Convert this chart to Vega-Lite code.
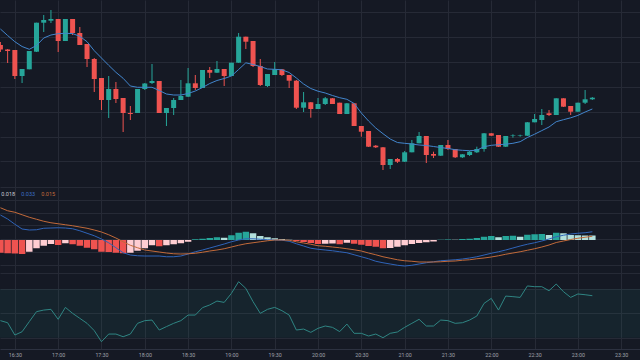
{
  "$schema": "https://vega.github.io/schema/vega-lite/v6.json",
  "width": 640,
  "height": 360,
  "autosize": {"type": "fit", "contains": "padding"},
  "padding": 0,
  "background": "#151924",
  "data": {
    "values": [
      {"t":"16:20","min":980,"o":155,"h":158,"l":148,"c":150.5,"ma":171,"hist":-0.051,"macd":0.100,"signal":0.129,"rsi":44.0},
      {"t":"16:25","min":985,"o":150.5,"h":151,"l":137,"c":149,"ma":164.5,"hist":-0.053,"macd":0.084,"signal":0.117,"rsi":42.3},
      {"t":"16:30","min":990,"o":150,"h":150,"l":121,"c":124,"ma":158.3,"hist":-0.054,"macd":0.063,"signal":0.111,"rsi":32.2},
      {"t":"16:35","min":995,"o":124,"h":131,"l":117,"c":131,"ma":153.5,"hist":-0.056,"macd":0.044,"signal":0.101,"rsi":34.9},
      {"t":"16:40","min":1000,"o":130.7,"h":149,"l":130.7,"c":149,"ma":150.7,"hist":-0.047,"macd":0.040,"signal":0.091,"rsi":43.2},
      {"t":"16:45","min":1005,"o":148.3,"h":177.3,"l":148,"c":177.3,"ma":154.5,"hist":-0.033,"macd":0.041,"signal":0.083,"rsi":51.4},
      {"t":"16:50","min":1010,"o":177.3,"h":185,"l":168,"c":180,"ma":162,"hist":-0.023,"macd":0.047,"signal":0.075,"rsi":52.7},
      {"t":"16:55","min":1015,"o":179.3,"h":190,"l":177,"c":181,"ma":165,"hist":-0.016,"macd":0.048,"signal":0.069,"rsi":53.3},
      {"t":"17:00","min":1020,"o":181,"h":181,"l":148,"c":159,"ma":166.3,"hist":-0.020,"macd":0.049,"signal":0.065,"rsi":45.1},
      {"t":"17:05","min":1025,"o":159,"h":181,"l":159,"c":181,"ma":166.7,"hist":-0.013,"macd":0.048,"signal":0.061,"rsi":54.9},
      {"t":"17:10","min":1030,"o":181,"h":181,"l":165,"c":167,"ma":166.4,"hist":-0.017,"macd":0.045,"signal":0.057,"rsi":50.0},
      {"t":"17:15","min":1035,"o":167,"h":173,"l":155,"c":155,"ma":163.7,"hist":-0.023,"macd":0.037,"signal":0.052,"rsi":45.9},
      {"t":"17:20","min":1040,"o":156,"h":156,"l":133,"c":141,"ma":158.3,"hist":-0.031,"macd":0.027,"signal":0.047,"rsi":41.8},
      {"t":"17:25","min":1045,"o":141,"h":142,"l":108,"c":121,"ma":149.3,"hist":-0.037,"macd":0.017,"signal":0.040,"rsi":35.8},
      {"t":"17:30","min":1050,"o":122,"h":122,"l":90,"c":100,"ma":142,"hist":-0.047,"macd":0.004,"signal":0.032,"rsi":26.7},
      {"t":"17:35","min":1055,"o":100,"h":124,"l":82,"c":111,"ma":134.7,"hist":-0.048,"macd":-0.011,"signal":0.021,"rsi":33.0},
      {"t":"17:40","min":1060,"o":111,"h":118,"l":97,"c":101,"ma":127.7,"hist":-0.051,"macd":-0.031,"signal":0.008,"rsi":33.0},
      {"t":"17:45","min":1065,"o":102,"h":102,"l":68,"c":87,"ma":121.7,"hist":-0.053,"macd":-0.051,"signal":-0.007,"rsi":30.8},
      {"t":"17:50","min":1070,"o":87,"h":94,"l":80,"c":86,"ma":114,"hist":-0.051,"macd":-0.060,"signal":-0.021,"rsi":33.0},
      {"t":"17:55","min":1075,"o":87,"h":111,"l":87,"c":111,"ma":112.7,"hist":-0.043,"macd":-0.063,"signal":-0.031,"rsi":41.8},
      {"t":"18:00","min":1080,"o":111,"h":117,"l":110,"c":116.5,"ma":112.7,"hist":-0.033,"macd":-0.064,"signal":-0.040,"rsi":44.0},
      {"t":"18:05","min":1085,"o":117,"h":136,"l":116,"c":119,"ma":112.7,"hist":-0.021,"macd":-0.064,"signal":-0.044,"rsi":44.5},
      {"t":"18:10","min":1090,"o":119,"h":119,"l":87,"c":87,"ma":109.5,"hist":-0.025,"macd":-0.064,"signal":-0.048,"rsi":36.3},
      {"t":"18:15","min":1095,"o":87,"h":92,"l":74,"c":92,"ma":106,"hist":-0.021,"macd":-0.067,"signal":-0.052,"rsi":39.1},
      {"t":"18:20","min":1100,"o":92,"h":102,"l":85,"c":100,"ma":105,"hist":-0.017,"macd":-0.067,"signal":-0.055,"rsi":41.8},
      {"t":"18:25","min":1105,"o":100,"h":120,"l":100,"c":104,"ma":105,"hist":-0.013,"macd":-0.064,"signal":-0.056,"rsi":44.0},
      {"t":"18:30","min":1110,"o":103.3,"h":132,"l":103,"c":116.7,"ma":106.5,"hist":-0.007,"macd":-0.056,"signal":-0.055,"rsi":48.6},
      {"t":"18:35","min":1115,"o":116.7,"h":125,"l":110,"c":112,"ma":109,"hist":0.003,"macd":-0.047,"signal":-0.053,"rsi":48.6},
      {"t":"18:40","min":1120,"o":112,"h":130,"l":112,"c":130,"ma":112.5,"hist":0.005,"macd":-0.040,"signal":-0.049,"rsi":54.7},
      {"t":"18:45","min":1125,"o":130,"h":133,"l":122,"c":127.3,"ma":116.5,"hist":0.008,"macd":-0.032,"signal":-0.044,"rsi":56.9},
      {"t":"18:50","min":1130,"o":127.3,"h":139,"l":127,"c":131,"ma":119.5,"hist":0.011,"macd":-0.024,"signal":-0.040,"rsi":60.1},
      {"t":"18:55","min":1135,"o":131,"h":131,"l":114,"c":124,"ma":121.5,"hist":0.009,"macd":-0.016,"signal":-0.035,"rsi":59.0},
      {"t":"19:00","min":1140,"o":124,"h":137.3,"l":124,"c":137.3,"ma":124,"hist":0.019,"macd":-0.007,"signal":-0.028,"rsi":66.4},
      {"t":"19:05","min":1145,"o":137.3,"h":167,"l":137,"c":163.3,"ma":130.5,"hist":0.029,"macd":0.000,"signal":-0.021,"rsi":76.0},
      {"t":"19:10","min":1150,"o":163.3,"h":163.3,"l":151,"c":158.3,"ma":137.2,"hist":0.033,"macd":0.005,"signal":-0.015,"rsi":70.5},
      {"t":"19:15","min":1155,"o":159,"h":159,"l":133,"c":134,"ma":135.5,"hist":0.027,"macd":0.005,"signal":-0.011,"rsi":59.6},
      {"t":"19:20","min":1160,"o":134,"h":141,"l":114,"c":115,"ma":133.5,"hist":0.016,"macd":0.003,"signal":-0.007,"rsi":50.0},
      {"t":"19:25","min":1165,"o":114,"h":126,"l":113,"c":126,"ma":131,"hist":0.011,"macd":0.001,"signal":-0.003,"rsi":53.3},
      {"t":"19:30","min":1170,"o":125,"h":138,"l":125,"c":130.7,"ma":130.7,"hist":0.007,"macd":0.000,"signal":0.000,"rsi":54.9},
      {"t":"19:35","min":1175,"o":130.7,"h":131,"l":124,"c":125,"ma":130.2,"hist":0.004,"macd":-0.001,"signal":0.000,"rsi":52.2},
      {"t":"19:40","min":1180,"o":125,"h":125,"l":112,"c":119.3,"ma":127.5,"hist":0.001,"macd":-0.005,"signal":-0.001,"rsi":48.6},
      {"t":"19:45","min":1185,"o":119.3,"h":120,"l":91,"c":92.3,"ma":122,"hist":-0.004,"macd":-0.015,"signal":-0.007,"rsi":36.3},
      {"t":"19:50","min":1190,"o":92.3,"h":108,"l":88,"c":97.7,"ma":116,"hist":-0.008,"macd":-0.024,"signal":-0.012,"rsi":37.1},
      {"t":"19:55","min":1195,"o":97.7,"h":98,"l":82.3,"c":91,"ma":111.5,"hist":-0.012,"macd":-0.033,"signal":-0.017,"rsi":34.4},
      {"t":"20:00","min":1200,"o":91,"h":102,"l":91,"c":96,"ma":108.8,"hist":-0.016,"macd":-0.037,"signal":-0.023,"rsi":37.7},
      {"t":"20:05","min":1205,"o":96,"h":103,"l":95,"c":101.7,"ma":107,"hist":-0.015,"macd":-0.040,"signal":-0.025,"rsi":39.6},
      {"t":"20:10","min":1210,"o":101.7,"h":102,"l":96,"c":96,"ma":104.5,"hist":-0.014,"macd":-0.043,"signal":-0.028,"rsi":38.5},
      {"t":"20:15","min":1215,"o":97.3,"h":97.3,"l":86,"c":86,"ma":102.3,"hist":-0.017,"macd":-0.047,"signal":-0.031,"rsi":35.0},
      {"t":"20:20","min":1220,"o":86,"h":97,"l":86,"c":96.7,"ma":100.7,"hist":-0.011,"macd":-0.051,"signal":-0.035,"rsi":41.2},
      {"t":"20:25","min":1225,"o":96.7,"h":97,"l":74,"c":74,"ma":96.5,"hist":-0.015,"macd":-0.059,"signal":-0.039,"rsi":33.6},
      {"t":"20:30","min":1230,"o":74,"h":74,"l":63.3,"c":68.3,"ma":87,"hist":-0.019,"macd":-0.067,"signal":-0.044,"rsi":33.6},
      {"t":"20:35","min":1235,"o":69,"h":69,"l":53,"c":53.3,"ma":79,"hist":-0.024,"macd":-0.075,"signal":-0.052,"rsi":31.4},
      {"t":"20:40","min":1240,"o":54.3,"h":55,"l":52,"c":52.7,"ma":72,"hist":-0.027,"macd":-0.085,"signal":-0.059,"rsi":33.0},
      {"t":"20:45","min":1245,"o":52.7,"h":53,"l":30,"c":35,"ma":66.3,"hist":-0.033,"macd":-0.091,"signal":-0.067,"rsi":30.0},
      {"t":"20:50","min":1250,"o":35,"h":41,"l":31,"c":41,"ma":61,"hist":-0.032,"macd":-0.096,"signal":-0.073,"rsi":33.6},
      {"t":"20:55","min":1255,"o":41,"h":42,"l":37,"c":38.3,"ma":57.5,"hist":-0.027,"macd":-0.101,"signal":-0.079,"rsi":34.7},
      {"t":"21:00","min":1260,"o":38.3,"h":49,"l":38,"c":47.7,"ma":56.7,"hist":-0.021,"macd":-0.104,"signal":-0.083,"rsi":38.5},
      {"t":"21:05","min":1265,"o":47.7,"h":60,"l":47.7,"c":56.7,"ma":56,"hist":-0.016,"macd":-0.101,"signal":-0.085,"rsi":41.8},
      {"t":"21:10","min":1270,"o":56.7,"h":68,"l":56.7,"c":64,"ma":55,"hist":-0.012,"macd":-0.096,"signal":-0.088,"rsi":45.1},
      {"t":"21:15","min":1275,"o":64,"h":64,"l":37,"c":45,"ma":54.5,"hist":-0.009,"macd":-0.091,"signal":-0.088,"rsi":39.6},
      {"t":"21:20","min":1280,"o":46,"h":48.3,"l":42,"c":44.3,"ma":53.5,"hist":-0.006,"macd":-0.087,"signal":-0.088,"rsi":39.6},
      {"t":"21:25","min":1285,"o":44.3,"h":55,"l":44,"c":55,"ma":52.5,"hist":0.001,"macd":-0.083,"signal":-0.087,"rsi":44.5},
      {"t":"21:30","min":1290,"o":55,"h":60,"l":50,"c":51,"ma":51.5,"hist":0.002,"macd":-0.081,"signal":-0.085,"rsi":44.0},
      {"t":"21:35","min":1295,"o":51,"h":51,"l":42,"c":42.7,"ma":50.3,"hist":0.001,"macd":-0.079,"signal":-0.084,"rsi":41.8},
      {"t":"21:40","min":1300,"o":42.7,"h":46,"l":42,"c":45.7,"ma":49.7,"hist":0.004,"macd":-0.076,"signal":-0.081,"rsi":42.3},
      {"t":"21:45","min":1305,"o":45,"h":49,"l":44,"c":48.3,"ma":49.3,"hist":0.005,"macd":-0.072,"signal":-0.079,"rsi":44.5},
      {"t":"21:50","min":1310,"o":47.7,"h":53.3,"l":47,"c":51,"ma":49.8,"hist":0.008,"macd":-0.067,"signal":-0.075,"rsi":47.8},
      {"t":"21:55","min":1315,"o":51,"h":67,"l":48.3,"c":66.7,"ma":53.3,"hist":0.013,"macd":-0.060,"signal":-0.072,"rsi":58.2},
      {"t":"22:00","min":1320,"o":66.7,"h":67,"l":64,"c":64.3,"ma":54.7,"hist":0.016,"macd":-0.053,"signal":-0.068,"rsi":62.3},
      {"t":"22:05","min":1325,"o":65,"h":65,"l":53,"c":53.3,"ma":55.3,"hist":0.011,"macd":-0.047,"signal":-0.063,"rsi":52.7},
      {"t":"22:10","min":1330,"o":53.3,"h":64,"l":53,"c":64,"ma":55.8,"hist":0.016,"macd":-0.040,"signal":-0.057,"rsi":64.2},
      {"t":"22:15","min":1335,"o":64,"h":65.7,"l":62.3,"c":64.6,"ma":56.7,"hist":0.017,"macd":-0.032,"signal":-0.052,"rsi":63.7},
      {"t":"22:20","min":1340,"o":64.3,"h":65.3,"l":63.3,"c":64.8,"ma":58.3,"hist":0.013,"macd":-0.024,"signal":-0.047,"rsi":63.1},
      {"t":"22:25","min":1345,"o":64.3,"h":78,"l":64,"c":77.7,"ma":62.5,"hist":0.021,"macd":-0.017,"signal":-0.041,"rsi":72.5},
      {"t":"22:30","min":1350,"o":77.7,"h":86,"l":77.7,"c":81,"ma":65.8,"hist":0.023,"macd":-0.011,"signal":-0.035,"rsi":71.9},
      {"t":"22:35","min":1355,"o":80,"h":91,"l":75,"c":85,"ma":69.4,"hist":0.024,"macd":-0.004,"signal":-0.028,"rsi":71.9},
      {"t":"22:40","min":1360,"o":86.7,"h":90,"l":84,"c":85,"ma":73,"hist":0.020,"macd":0.004,"signal":-0.020,"rsi":68.6},
      {"t":"22:45","min":1365,"o":85,"h":101.7,"l":85,"c":101.7,"ma":78.3,"hist":0.029,"macd":0.013,"signal":-0.010,"rsi":74.1},
      {"t":"22:50","min":1370,"o":101.7,"h":101.7,"l":93,"c":93.3,"ma":80.3,"hist":0.027,"macd":0.019,"signal":-0.004,"rsi":67.8},
      {"t":"22:55","min":1375,"o":94,"h":94,"l":85,"c":88.3,"ma":82.2,"hist":0.020,"macd":0.024,"signal":0.002,"rsi":63.1},
      {"t":"23:00","min":1380,"o":88.3,"h":97.3,"l":88.3,"c":97.3,"ma":84.6,"hist":0.019,"macd":0.027,"signal":0.007,"rsi":65.9},
      {"t":"23:05","min":1385,"o":97.3,"h":110,"l":96,"c":100.7,"ma":88,"hist":0.018,"macd":0.029,"signal":0.011,"rsi":65.3},
      {"t":"23:10","min":1390,"o":100.7,"h":103,"l":100,"c":102.3,"ma":91,"hist":0.018,"macd":0.033,"signal":0.015,"rsi":64.5}
    ]
  },
  "layer": [
    {
      "layer": [
        {
          "mark": {"type": "rule", "clip": true, "strokeWidth": 1},
          "encoding": {
            "x": {"field": "min", "type": "quantitative", "scale": {"domain": [983.18, 1419.55], "nice": false, "zero": false}, "axis": {"title": null, "grid": true, "labels": true, "ticks": false, "domain": true, "values": [990, 1020, 1050, 1080, 1110, 1140, 1170, 1200, 1230, 1260, 1290, 1320, 1350, 1380, 1410], "labelExpr": "floor(datum.value / 60) + ':' + (datum.value % 60 == 0 ? '00' : '30')", "labelFlush": false, "labelOverlap": false, "labelFontSize": 5.3, "labelColor": "#a0a3ab", "labelPadding": 3, "minExtent": 11, "maxExtent": 11}},
            "y": {"field": "h", "type": "quantitative", "scale": {"domain": [-149, 200], "nice": false, "zero": false}, "axis": {"orient": "left", "title": null, "grid": true, "labels": false, "ticks": false, "domain": false, "values": [187.7, 175.3, 162.9, 150.4, 138, 125.6, 113.2, 100.8, 88.3, 75.9, 63.5, 51.1, 38.7, 26.2, 13]}},
            "y2": {"field": "l"},
            "color": {"condition": {"test": "datum.c >= datum.o", "value": "#26a69a"}, "value": "#ef5350"}
          }
        },
        {
          "mark": {"type": "bar", "clip": true, "size": 5},
          "encoding": {
            "x": {"field": "min", "type": "quantitative"},
            "y": {"field": "o", "type": "quantitative"},
            "y2": {"field": "c"},
            "color": {"condition": {"test": "datum.c >= datum.o", "value": "#26a69a"}, "value": "#ef5350"}
          }
        },
        {
          "mark": {"type": "line", "clip": true, "strokeWidth": 1, "color": "#4285cc"},
          "encoding": {
            "x": {"field": "min", "type": "quantitative"},
            "y": {"field": "ma", "type": "quantitative"}
          }
        }
      ]
    },
    {
      "layer": [
        {
          "transform": [{"window": [{"op": "lag", "field": "hist", "as": "prev"}], "sort": [{"field": "min"}]}],
          "mark": {"type": "bar", "clip": true, "size": 6.5},
          "encoding": {
            "x": {"field": "min", "type": "quantitative"},
            "y": {"field": "hist", "type": "quantitative", "scale": {"domain": [-0.436, 0.96], "nice": false}, "axis": {"orient": "left", "title": null, "grid": true, "labels": false, "ticks": false, "domain": false, "values": [0.162, 0.11, 0.058, 0.006, -0.046, -0.098, -0.132]}},
            "color": {
              "condition": [
                {"test": "datum.hist >= 0 && datum.hist > datum.prev", "value": "#26a69a"},
                {"test": "datum.hist >= 0", "value": "#b2dfdb"},
                {"test": "datum.prev == null || datum.hist < datum.prev", "value": "#ef5350"}
              ],
              "value": "#ffcdd2"
            }
          }
        },
        {
          "transform": [{"fold": ["macd", "signal"], "as": ["series", "val"]}],
          "mark": {"type": "line", "clip": true, "strokeWidth": 1},
          "encoding": {
            "x": {"field": "min", "type": "quantitative"},
            "y": {"field": "val", "type": "quantitative"},
            "color": {
              "field": "series",
              "type": "nominal",
              "scale": {"domain": ["hist", "macd", "signal"], "range": ["#c8cbd3", "#2f64b9", "#c26a3a"]},
              "legend": {
                "orient": "none",
                "legendX": -4.2,
                "legendY": 191,
                "direction": "horizontal",
                "title": null,
                "padding": 0,
                "symbolSize": 0,
                "symbolStrokeWidth": 0,
                "symbolOpacity": 0,
                "labelOffset": 0,
                "columnPadding": -8,
                "labelFontSize": 5.5,
                "labelExpr": "datum.value == 'hist' ? '0.018' : datum.value == 'macd' ? '0.033' : '0.015'",
                "labelColor": {"expr": "datum.value == 'macd' ? '#3b6fc4' : datum.value == 'signal' ? '#c26a3a' : '#c8cbd3'"}
              }
            }
          }
        }
      ]
    },
    {
      "layer": [
        {
          "data": {"values": [{"upper": 70, "lower": 30}]},
          "mark": {"type": "rect", "clip": true, "color": "#26a69a", "opacity": 0.08},
          "encoding": {
            "y": {"field": "upper", "type": "quantitative", "scale": {"domain": [20.72, 307.37], "nice": false, "zero": false}, "axis": {"orient": "left", "title": null, "grid": true, "labels": false, "ticks": false, "domain": false, "values": [30, 50, 70]}},
            "y2": {"field": "lower"}
          }
        },
        {
          "mark": {"type": "line", "clip": true, "strokeWidth": 1, "color": "#2f8583"},
          "encoding": {
            "x": {"field": "min", "type": "quantitative"},
            "y": {"field": "rsi", "type": "quantitative"}
          }
        }
      ]
    }
  ],
  "resolve": {"scale": {"y": "independent"}, "axis": {"y": "independent"}},
  "config": {
    "font": "Roboto",
    "view": {"stroke": null},
    "axis": {"gridColor": "#262a36", "gridWidth": 1, "domainColor": "#2c3140"}
  }
}
